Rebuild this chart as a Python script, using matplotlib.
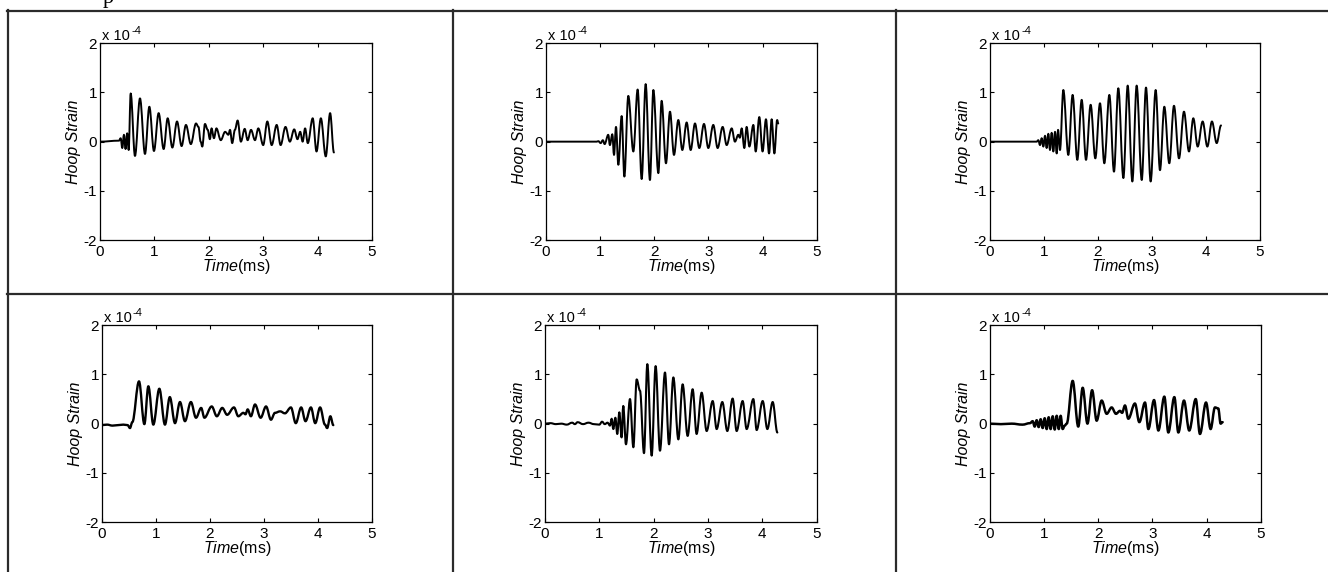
import matplotlib
matplotlib.use('Agg')
import matplotlib.pyplot as plt
from matplotlib.lines import Line2D
from matplotlib.path import Path
from matplotlib.patches import PathPatch

plt.rcParams['font.family'] = 'Liberation Sans'
plt.rcParams['axes.unicode_minus'] = False
plt.rcParams['mathtext.fontset'] = 'custom'
plt.rcParams['mathtext.rm'] = 'Liberation Sans'
plt.rcParams['mathtext.it'] = 'Liberation Sans:italic'

# hoop strain traces (x 1e-4), time in ms
t1 = [0, 0.35, 0.38, 0.41, 0.44, 0.47, 0.50, 0.527, 0.564, 0.643,
      0.735, 0.827, 0.907, 0.992, 1.078, 1.17, 1.244, 1.33, 1.416, 1.5,
      1.58, 1.67, 1.765, 1.81, 1.85, 1.88, 1.93, 1.98, 2.02, 2.05,
      2.095, 2.14, 2.22, 2.30, 2.36, 2.39, 2.43, 2.48, 2.53, 2.59,
      2.66, 2.714, 2.776, 2.849, 2.91, 3.0, 3.076, 3.156, 3.248, 3.32,
      3.41, 3.49, 3.57, 3.63, 3.68, 3.725, 3.77, 3.82, 3.91, 3.98,
      4.06, 4.15, 4.23, 4.30]
s1 = [0, 0.02, 0.07, -0.13, 0.14, -0.15, 0.17, -0.17, 0.98, -0.29,
      0.88, -0.25, 0.71, -0.19, 0.58, -0.15, 0.475, -0.12, 0.41, -0.09,
      0.34, -0.05, 0.37, 0.30, 0.0, -0.1, 0.36, 0.24, 0.05, 0.27,
      0.07, 0.27, 0.03, 0.2, 0.14, 0.24, -0.03, 0.24, 0.43, 0.0,
      0.26, 0.03, 0.24, 0.03, 0.27, -0.07, 0.41, -0.07, 0.34, -0.07,
      0.30, 0.0, 0.25, 0.05, 0.2, 0.0, 0.27, -0.03, 0.475, -0.2,
      0.475, -0.3, 0.58, -0.22]

t2 = [0, 0.936, 0.967, 1.01, 1.05, 1.083, 1.15, 1.18, 1.225, 1.256,
      1.293, 1.336, 1.398, 1.447, 1.52, 1.613, 1.693, 1.767, 1.841, 1.92,
      1.983, 2.075, 2.136, 2.216, 2.29, 2.364, 2.444, 2.518, 2.598, 2.672,
      2.752, 2.832, 2.918, 2.998, 3.09, 3.17, 3.263, 3.337, 3.43, 3.49,
      3.552, 3.58, 3.614, 3.663, 3.706, 3.756, 3.83, 3.873, 3.94, 4.0,
      4.063, 4.12, 4.168, 4.218, 4.27, 4.29]
s2 = [0, 0, 0.01, -0.03, 0.03, -0.05, 0.14, -0.07, 0.15, -0.27,
      0.30, -0.47, 0.52, -0.71, 0.93, -0.2, 1.06, -0.76, 1.17, -0.78,
      1.05, -0.64, 0.83, -0.44, 0.61, -0.27, 0.44, -0.17, 0.39, -0.17,
      0.37, -0.13, 0.36, -0.13, 0.34, -0.13, 0.30, -0.07, 0.27, 0.0,
      0.14, 0.08, 0.27, -0.13, 0.30, -0.1, 0.34, -0.2, 0.5, -0.2,
      0.455, -0.24, 0.455, -0.24, 0.44, 0.37]

t3 = [0, 0.865, 0.895, 0.926, 0.957, 0.988, 1.019, 1.049, 1.08, 1.111,
      1.142, 1.173, 1.204, 1.235, 1.26, 1.296, 1.358, 1.45, 1.53, 1.617,
      1.698, 1.778, 1.864, 1.95, 2.037, 2.117, 2.21, 2.296, 2.376, 2.47,
      2.55, 2.636, 2.716, 2.81, 2.889, 2.975, 3.068, 3.148, 3.228, 3.32,
      3.407, 3.5, 3.592, 3.685, 3.765, 3.846, 3.938, 4.025, 4.11, 4.198,
      4.278]
s3 = [0, 0, 0.03, -0.07, 0.07, -0.10, 0.12, -0.13, 0.16, -0.17,
      0.18, -0.2, 0.2, -0.24, 0.24, -0.17, 1.05, -0.27, 0.95, -0.37,
      0.85, -0.37, 0.75, -0.34, 0.78, -0.44, 0.95, -0.61, 1.085, -0.74,
      1.14, -0.81, 1.14, -0.78, 1.1, -0.81, 1.05, -0.58, 0.71, -0.44,
      0.73, -0.34, 0.61, -0.2, 0.475, -0.1, 0.41, -0.1, 0.41, -0.03,
      0.33]

t4 = [0, 0.1, 0.2, 0.3, 0.4, 0.48, 0.523, 0.566, 0.69, 0.789,
      0.863, 0.955, 1.066, 1.17, 1.26, 1.356, 1.448, 1.54, 1.65, 1.744,
      1.84, 1.9, 2.035, 2.13, 2.23, 2.32, 2.447, 2.527, 2.62, 2.66,
      2.7, 2.76, 2.836, 2.94, 3.04, 3.131, 3.205, 3.3, 3.39, 3.5,
      3.59, 3.69, 3.77, 3.87, 3.95, 4.04, 4.13, 4.17, 4.23, 4.284]
s4 = [-0.03, -0.02, -0.04, -0.03, -0.02, -0.03, -0.09, 0.03, 0.86, -0.01,
      0.76, -0.02, 0.71, -0.02, 0.54, 0.01, 0.44, 0.05, 0.44, 0.12,
      0.32, 0.12, 0.35, 0.15, 0.32, 0.18, 0.33, 0.15, 0.22, 0.19,
      0.29, 0.15, 0.39, 0.12, 0.35, 0.08, 0.22, 0.25, 0.21, 0.33,
      0.01, 0.33, 0.05, 0.33, 0.01, 0.33, -0.02, -0.09, 0.15, -0.03]

t5 = [0, 0.1, 0.2, 0.3, 0.4, 0.5, 0.55, 0.6, 0.7, 0.8,
      0.9, 1.0, 1.05, 1.1, 1.15, 1.196, 1.227, 1.257, 1.295, 1.33,
      1.368, 1.41, 1.44, 1.49, 1.564, 1.626, 1.687, 1.748, 1.822, 1.883,
      1.963, 2.036, 2.116, 2.208, 2.282, 2.362, 2.454, 2.533, 2.625, 2.717,
      2.79, 2.883, 2.975, 3.086, 3.159, 3.263, 3.355, 3.453, 3.527, 3.637,
      3.711, 3.834, 3.895, 4.006, 4.092, 4.19, 4.276]
s5 = [0, 0.01, -0.01, 0.0, -0.02, 0.02, -0.01, 0.03, -0.01, 0.02,
      -0.01, -0.02, 0.04, -0.01, 0.02, -0.04, 0.1, -0.11, 0.12, -0.21,
      0.23, -0.28, 0.36, -0.42, 0.5, -0.48, 0.9, 0.67, -0.6, 1.21,
      -0.65, 1.17, -0.55, 1.04, -0.42, 0.94, -0.32, 0.8, -0.25, 0.7,
      -0.21, 0.63, -0.15, 0.46, -0.11, 0.44, -0.15, 0.51, -0.15, 0.46,
      -0.11, 0.5, -0.13, 0.46, -0.11, 0.44, -0.18]

t6 = [0, 0.2, 0.4, 0.6, 0.739, 0.788, 0.825, 0.862, 0.899, 0.936,
      0.973, 1.01, 1.047, 1.084, 1.12, 1.158, 1.195, 1.232, 1.27, 1.305,
      1.342, 1.38, 1.417, 1.527, 1.63, 1.712, 1.8, 1.886, 1.97, 2.063,
      2.155, 2.247, 2.327, 2.4, 2.44, 2.493, 2.555, 2.677, 2.758, 2.863,
      2.925, 3.03, 3.11, 3.22, 3.294, 3.405, 3.479, 3.583, 3.68, 3.8,
      3.878, 3.99, 4.075, 4.155, 4.216, 4.26, 4.297]
s6 = [0.0, -0.01, 0.0, -0.02, 0.01, 0.05, -0.06, 0.07, -0.07, 0.09,
      -0.09, 0.11, -0.11, 0.13, -0.11, 0.15, -0.12, 0.16, -0.11, 0.16,
      -0.11, -0.04, 0.0, 0.87, -0.06, 0.73, 0.0, 0.68, 0.06, 0.47,
      0.2, 0.33, 0.2, 0.26, 0.22, 0.37, 0.1, 0.41, 0.03, 0.43,
      -0.11, 0.48, -0.14, 0.55, -0.18, 0.54, -0.18, 0.47, -0.14, 0.5,
      -0.21, 0.43, -0.11, 0.33, 0.31, 0.0, 0.03]

traces = [(t1, s1), (t2, s2), (t3, s3), (t4, s4), (t5, s5), (t6, s6)]
xticks = [0, 1, 2, 3, 4, 5]
yticks = [-2, -1, 0, 1, 2]


def smooth_path(t, s, k=0.36):
    # cubic bezier through the read extrema, flat tangent at each one
    verts = [(t[0], s[0])]
    codes = [Path.MOVETO]
    for i in range(1, len(t)):
        dt = t[i] - t[i - 1]
        verts += [(t[i - 1] + k * dt, s[i - 1]), (t[i] - k * dt, s[i]), (t[i], s[i])]
        codes += [Path.CURVE4] * 3
    return Path(verts, codes)


W, H = 1328, 572
fig = plt.figure(figsize=(W / 100, H / 100), dpi=100)

# table rules around the panels (pixel coords)
grid_col = '#2b2b2b'
for y in [11, 293.5]:
    fig.add_artist(Line2D([7 / W, 1], [1 - y / H, 1 - y / H], transform=fig.transFigure,
                          color=grid_col, lw=1.6))
for x in [8, 453, 896]:
    fig.add_artist(Line2D([x / W, x / W], [1 - 10 / H, 0], transform=fig.transFigure,
                          color=grid_col, lw=1.6))

# leftover of the caption line above the table
fig.text(103 / W, 1 - 2.5 / H, 'p', family='Liberation Serif', fontsize=16,
         va='baseline', ha='left')

# axes boxes (pixel coords)
lefts = [100, 546, 990, 101.7, 545, 990]
rights = [372, 816.7, 1260, 372, 816.7, 1260.7]
tops = [43.3, 43.3, 43.3, 325.3, 325.3, 325.3]
bottoms = [240, 240, 240, 522, 522, 522]
widths = [1.4, 1.4, 1.4, 1.7, 1.5, 1.8]

for i, (t, s) in enumerate(traces):
    l, r, tp, b = lefts[i], rights[i], tops[i], bottoms[i]
    ax = fig.add_axes([l / W, 1 - b / H, (r - l) / W, (b - tp) / H])
    ax.add_patch(PathPatch(smooth_path(t, s), fill=False, edgecolor='black',
                           lw=widths[i], capstyle='round', joinstyle='round'))
    ax.set_xlim(0, 5)
    ax.set_ylim(-2, 2)
    ax.set_xticks(xticks)
    ax.set_yticks(yticks)
    ax.tick_params(direction='in', top=True, right=True, length=3, width=0.8,
                   labelsize=11, colors='black')
    ax.tick_params(axis='x', pad=3.5)
    ax.tick_params(axis='y', pad=2)
    for sp in ax.spines.values():
        sp.set_linewidth(0.9)
    ax.set_xlabel(r'$\mathit{Time}$(ms)', fontsize=11.5, labelpad=-1.5)
    ax.set_ylabel('Hoop Strain', fontstyle='italic', fontsize=11.5, labelpad=2)
    ax.annotate('x 10', xy=(0, 1), xycoords='axes fraction', xytext=(1.5, 0.5),
                textcoords='offset points', va='bottom', ha='left', fontsize=10.5)
    ax.annotate('-4', xy=(0, 1), xycoords='axes fraction', xytext=(22.5, 5.5),
                textcoords='offset points', va='bottom', ha='left', fontsize=8)

fig.savefig('out.png', dpi=100)
